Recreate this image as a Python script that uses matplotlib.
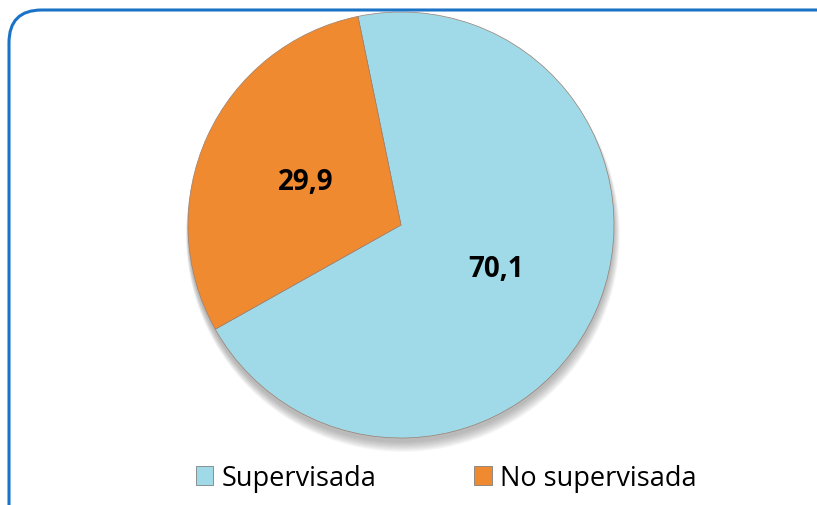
import numpy as np
import matplotlib.pyplot as plt
from matplotlib.patches import FancyBboxPatch, Circle

categorias = ["Supervisada", "No supervisada"]
porcentajes = [70.1, 29.9]
etiquetas = ["70,1", "29,9"]
colores = ["#A0D9E8", "#F08A30"]

plt.rcParams['font.family'] = ['Open Sans', 'DejaVu Sans']

fig = plt.figure(figsize=(8.17, 5.06), dpi=100)
W, H = 817, 506

# marco redondeado
marco = FancyBboxPatch((9 / W, -0.2), 1.2, 1 - 11 / H + 0.2,
                       boxstyle="round,pad=0,rounding_size=0.04",
                       transform=fig.transFigure, fill=False,
                       edgecolor="#1A73C6", linewidth=2.2,
                       mutation_aspect=W / H)
fig.patches.append(marco)

cx, cy, r = 401, 226, 213
ax = fig.add_axes([(cx - r) / W, (H - cy - r) / H, 2 * r / W, 2 * r / H])

# sombra suave bajo el circulo
for k in range(10):
    ax.add_patch(Circle((0.001 * k, -0.02 - 0.003 * k), 1.0 + 0.002 * k,
                        color="#606060", alpha=0.05, zorder=0, lw=0,
                        clip_on=False))

wedges, _ = ax.pie(porcentajes, colors=colores, startangle=209.3,
                   counterclock=True, radius=1,
                   wedgeprops=dict(edgecolor="#9A8070", linewidth=0.5))

for w in wedges:
    w.set_zorder(2)

for w, txt in zip(wedges, etiquetas):
    ang = np.deg2rad((w.theta1 + w.theta2) / 2)
    d = 0.49
    ax.text(d * np.cos(ang), d * np.sin(ang), txt, ha="center", va="center",
            fontsize=20, fontweight="bold", color="black", zorder=5)

ax.set_xlim(-1, 1)
ax.set_ylim(-1, 1)
ax.set_aspect("equal")
ax.axis("off")

handles = [plt.Rectangle((0, 0), 1, 1, facecolor=c, edgecolor="#808080", lw=0.6)
           for c in colores]
fig.legend(handles, categorias, loc="center", bbox_to_anchor=(0.546, 1 - 479 / H),
           ncol=2, frameon=False, fontsize=19.5, handlelength=0.65, handleheight=0.65,
           handletextpad=0.3, columnspacing=3.6)

fig.savefig("out.png", dpi=100)
